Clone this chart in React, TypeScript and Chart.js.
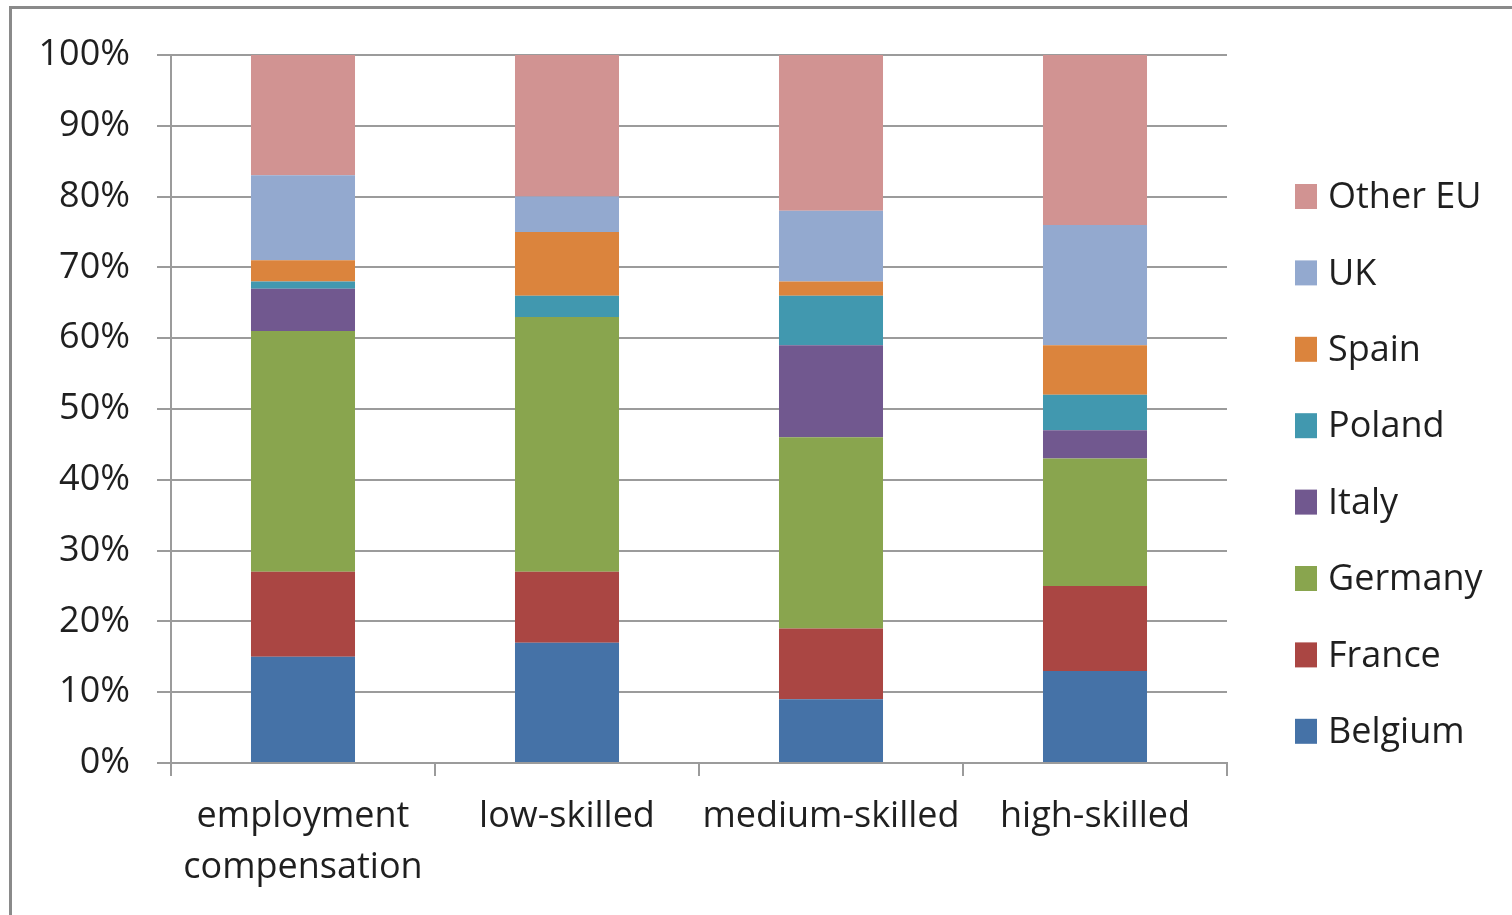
import React, { useEffect, useRef } from "react";
import { Chart, registerables } from "chart.js";

Chart.register(...registerables);

const categories: (string | string[])[] = [
  ["employment", "compensation"],
  "low-skilled",
  "medium-skilled",
  "high-skilled",
];

const countries = ["Belgium", "France", "Germany", "Italy", "Poland", "Spain", "UK", "Other EU"];
const colors = ["#4572A7", "#AA4643", "#89A54E", "#71588F", "#4198AF", "#DB843D", "#93A9CF", "#D19392"];

// Share of each country, per category (percent)
const belgium = [15, 17, 9, 13];
const france = [12, 10, 10, 12];
const germany = [34, 36, 27, 18];
const italy = [6, 0, 13, 4];
const poland = [1, 3, 7, 5];
const spain = [3, 9, 2, 7];
const uk = [12, 5, 10, 17];
const otherEU = [17, 20, 22, 24];

const series = [belgium, france, germany, italy, poland, spain, uk, otherEU];

const yTicks = [0, 10, 20, 30, 40, 50, 60, 70, 80, 90, 100];

const FONT = "'Open Sans', 'Noto Sans', sans-serif";
const TEXT = "#1f1f1f";
const GRID = "#9b9b9b";

const W = 1512;
const H = 915;

// Legend drawn on the right, top entry being the top stack segment
const sideLegend = {
  id: "sideLegend",
  afterDraw(chart: Chart) {
    const ctx = chart.ctx;
    const ds = chart.data.datasets;
    const x0 = chart.chartArea.right + 68;
    const top = 184;
    const step = 76.4;
    ctx.save();
    ctx.font = `36px ${FONT}`;
    ctx.textBaseline = "middle";
    ctx.textAlign = "left";
    for (let i = ds.length - 1, row = 0; i >= 0; i--, row++) {
      const y = top + row * step;
      ctx.fillStyle = ds[i].backgroundColor as string;
      ctx.fillRect(x0, y, 22, 25);
      ctx.fillStyle = TEXT;
      ctx.fillText(String(ds[i].label), x0 + 33, y + 14);
    }
    ctx.restore();
  },
};

export default function App() {
  const ref = useRef<HTMLCanvasElement | null>(null);

  useEffect(() => {
    if (!ref.current) return;
    const chart = new Chart(ref.current, {
      type: "bar",
      data: {
        labels: categories,
        datasets: countries.map((name, i) => ({
          label: name,
          data: series[i],
          backgroundColor: colors[i],
          borderWidth: 0,
          barPercentage: 0.394,
          categoryPercentage: 1,
        })),
      },
      options: {
        responsive: false,
        animation: false,
        layout: { padding: { top: 55, right: W - 1227, left: 0, bottom: 0 } },
        plugins: {
          legend: { display: false },
          tooltip: { enabled: false },
        },
        scales: {
          x: {
            stacked: true,
            afterFit(scale: any) {
              scale.height = H - 763;
            },
            grid: {
              drawOnChartArea: false,
              offset: true,
              tickLength: 13,
              color: GRID,
              lineWidth: 2,
            },
            border: { color: GRID, width: 2 },
            ticks: {
              color: TEXT,
              padding: 16,
              font: { family: FONT, size: 36, lineHeight: 1.4 },
              maxRotation: 0,
              autoSkip: false,
            },
          },
          y: {
            stacked: true,
            min: 0,
            max: 100,
            afterFit(scale: any) {
              scale.width = 171;
            },
            afterBuildTicks(scale: any) {
              scale.ticks = yTicks.map((v) => ({ value: v }));
            },
            grid: {
              color: GRID,
              lineWidth: 2,
              tickLength: 14,
            },
            border: { color: GRID, width: 2 },
            ticks: {
              color: TEXT,
              padding: 27,
              font: { family: FONT, size: 36 },
              callback: (v: any) => `${v}%`,
            },
          },
        },
      },
      plugins: [sideLegend],
    });
    return () => chart.destroy();
  }, []);

  return (
    <div
      style={{
        position: "absolute",
        left: 0,
        top: 0,
        width: W,
        height: H,
        overflow: "hidden",
        background: "#fff",
      }}
    >
      <div
        style={{
          position: "absolute",
          left: 9,
          top: 6,
          width: W + 100,
          height: H + 100,
          border: "3px solid #8a8a8a",
          boxSizing: "border-box",
        }}
      />
      <canvas
        ref={ref}
        width={W}
        height={H}
        style={{ position: "absolute", left: 0, top: 0, width: W, height: H }}
      />
    </div>
  );
}
